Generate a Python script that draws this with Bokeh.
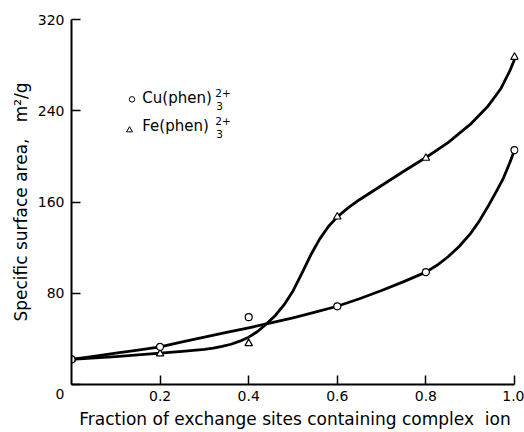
from bokeh.plotting import figure
from bokeh.models import Range1d, FixedTicker, Label
from bokeh.embed import file_html
from bokeh.resources import INLINE

# measured points
frac = [0.0, 0.2, 0.4, 0.6, 0.8, 1.0]
cu_area = [22, 33, 59, 68.5, 98.5, 205.5]
fe_area = [22, 27, 36, 147, 198.5, 287]

# hand-drawn smooth curves
cu_curve_x = [0.0, 0.05, 0.1, 0.15, 0.2, 0.25, 0.3, 0.35, 0.4, 0.45, 0.5, 0.55, 0.6,
              0.65, 0.7, 0.75, 0.8, 0.825, 0.85, 0.875, 0.9, 0.92, 0.94, 0.96, 0.975, 0.99, 1.0]
cu_curve_y = [22, 24.7, 27.5, 30.2, 33, 37.3, 41.5, 45.6, 49.7, 54, 58.5, 63.4, 68.6,
              75.2, 82.4, 90.2, 98.5, 104.5, 112, 121, 132, 143, 156, 170, 181, 195, 205.5]
fe_curve_x = [0.0, 0.1, 0.2, 0.25, 0.3, 0.32, 0.34, 0.36, 0.38, 0.4, 0.42, 0.44, 0.46, 0.48,
              0.5, 0.52, 0.54, 0.56, 0.58, 0.6, 0.625, 0.65, 0.7, 0.75, 0.8, 0.85, 0.9, 0.94,
              0.96, 0.97, 0.99, 1.0]
fe_curve_y = [22, 24.5, 27.5, 29, 30.8, 31.9, 33.4, 35.3, 38, 41.5, 46.5, 53, 60.5, 70,
              82, 97.5, 113.5, 127.5, 138.5, 147, 155, 162, 174.5, 187, 199, 212, 228, 244,
              254.5, 260, 275.5, 285]

x_ticks = [0.2, 0.4, 0.6, 0.8, 1.0]
x_tick_labels = ["0.2", "0.4", "0.6", "0.8", "1.0"]
y_ticks = [0, 80, 160, 240, 320]
y_tick_labels = ["\n0", "80", "160", "240", "320"]

FONT = "DejaVu Sans"
NB = "\u00a0"

p = figure(width=524, height=432, output_backend="svg", toolbar_location=None,
           x_range=Range1d(0, 1.009), y_range=Range1d(0, 320),
           min_border_left=71, min_border_right=6, min_border_top=19, min_border_bottom=48,
           x_axis_label="Fraction of exchange sites containing complex" + NB + NB + "ion",
           y_axis_label="Specific surface area," + NB * 3 + "m\u00b2/g")
p.outline_line_color = None
p.grid.visible = False
p.background_fill_color = "white"
p.border_fill_color = "white"

for ax in (p.xaxis[0], p.yaxis[0]):
    ax.axis_line_width = 2
    ax.axis_line_color = "black"
    ax.major_tick_line_width = 1.5
    ax.major_tick_in = 9
    ax.major_tick_out = 0
    ax.minor_tick_line_color = None
    ax.major_label_text_font = FONT
    ax.major_label_text_font_size = "14px"
    ax.major_label_text_color = "black"
    ax.axis_label_text_font = FONT
    ax.axis_label_text_font_size = "17px"
    ax.axis_label_text_font_style = "normal"
    ax.axis_label_text_color = "black"

p.xaxis[0].ticker = FixedTicker(ticks=x_ticks)
p.xaxis[0].major_label_overrides = dict(zip(x_ticks, x_tick_labels))
p.xaxis[0].bounds = (0, 1)
p.xaxis[0].major_label_standoff = 6
p.xaxis[0].axis_label_standoff = 5

p.yaxis[0].ticker = FixedTicker(ticks=y_ticks)
p.yaxis[0].major_label_overrides = dict(zip(y_ticks, y_tick_labels))
p.yaxis[0].bounds = (0, 320)
p.yaxis[0].major_label_standoff = 7
p.yaxis[0].axis_label_standoff = 4

# curves
p.line(cu_curve_x, cu_curve_y, line_color="black", line_width=2.8, line_join="round", line_cap="round")
p.line(fe_curve_x, fe_curve_y, line_color="black", line_width=2.8, line_join="round", line_cap="round")

# points
p.scatter(frac, fe_area, marker="triangle", size=7.5, fill_color="white", line_color="black", line_width=1.2)
p.scatter(frac, cu_area, marker="circle", size=7, fill_color="white", line_color="black", line_width=1.2)

# legend markers
p.scatter([0.1365], [250.0], marker="circle", size=5.5, fill_color="white", line_color="black", line_width=1)
p.scatter([0.131], [223.0], marker="triangle", size=6, fill_color="white", line_color="black", line_width=1)

def lab(x, y, text, size, **kw):
    p.add_layout(Label(x=x, y=y, text=text, text_font=FONT, text_font_size=size,
                       text_color="black", **kw))

lab(0.1598, 243.5, "Cu(phen)", "15px")
lab(0.3247, 252.0, "2+", "10.5px")
lab(0.327, 240.6, "3", "10.5px")
lab(0.1598, 218.6, "Fe(phen)", "15px")
lab(0.3247, 227.4, "2+", "10.5px")
lab(0.327, 216.0, "3", "10.5px")

open("out.html", "w").write(file_html(p, INLINE))
